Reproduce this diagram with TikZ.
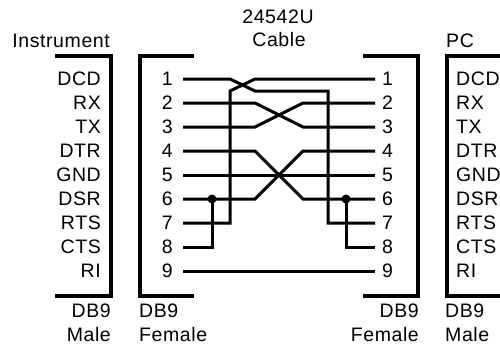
\documentclass[tikz,border=0pt]{standalone}
\usepackage{fontspec}
\setmainfont{Liberation Sans}[LetterSpace=3]
\begin{document}
\begin{tikzpicture}[x=1pt,y=-1pt,
  lbl/.style={inner sep=0pt,font=\fontsize{19.5}{22}\selectfont},
  wire/.style={line width=3pt,line join=miter},
  bracket/.style={line width=3.4pt,line join=miter},
  jdot/.style={circle,fill=black,inner sep=0pt,minimum size=9pt}]
\useasboundingbox (0,0) rectangle (500,346);
% titles
\node[lbl] (cabnum) at (278,17) {24542U};
\node[lbl] (cabname) at (279,40) {Cable};
\node[lbl,anchor=east] (instr) at (110,41) {Instrument};
\node[lbl,anchor=west] (pc) at (446,41) {PC};
% brackets
\draw[bracket] (55,56) -- (111,56) -- (111,296) -- (55,296);
\draw[bracket] (194,56) -- (140,56) -- (140,296) -- (194,296);
\draw[bracket] (363,56) -- (418,56) -- (418,296) -- (363,296);
\draw[bracket] (501,56) -- (447,56) -- (447,296) -- (501,296);
% signal names and pin numbers
\foreach \i/\s in {1/DCD,2/RX,3/TX,4/DTR,5/GND,6/DSR,7/RTS,8/CTS,9/RI}{
  \pgfmathsetmacro{\yy}{79+24*(\i-1)}
  \node[lbl,anchor=east] (is\i) at (101,\yy) {\s};
  \node[lbl,anchor=west] (ps\i) at (456,\yy) {\s};
  \node[lbl,anchor=east] (ln\i) at (173,\yy) {\i};
  \node[lbl,anchor=west] (rn\i) at (382,\yy) {\i};
  \coordinate (L\i) at (183,\yy);
  \coordinate (R\i) at (375,\yy);
}
% bottom labels
\node[lbl,anchor=east] (imdb) at (111,311) {DB9};
\node[lbl,anchor=east] (immale) at (111,335) {Male};
\node[lbl,anchor=west] (cldb) at (139,311) {DB9};
\node[lbl,anchor=west] (clfem) at (139,335) {Female};
\node[lbl,anchor=east] (crdb) at (419,311) {DB9};
\node[lbl,anchor=east] (crfem) at (419,335) {Female};
\node[lbl,anchor=west] (pcdb) at (445,311) {DB9};
\node[lbl,anchor=west] (pcmale) at (445,335) {Male};
% wires
\draw[wire] (L1) -- (230,79) -- (255,91) -- (328,91) -- (328,223) -- (R7);
\draw[wire] (R1) -- (255,79) -- (230,91) -- (230,223) -- (L7);
\draw[wire] (L2) -- (255,103) -- (303,127) -- (R3);
\draw[wire] (L3) -- (255,127) -- (303,103) -- (R2);
\draw[wire] (L4) -- (255,151) -- (303,199) -- (R6);
\draw[wire] (L6) -- (255,199) -- (303,151) -- (R4);
\draw[wire] (L5) -- (R5);
\draw[wire] (L9) -- (R9);
\node[jdot] (jl) at (212,199) {};
\node[jdot] (jr) at (346,199) {};
\draw[wire] (jl.center) -- (212,247) -- (L8);
\draw[wire] (jr.center) -- (346,247) -- (R8);
\end{tikzpicture}
\end{document}
